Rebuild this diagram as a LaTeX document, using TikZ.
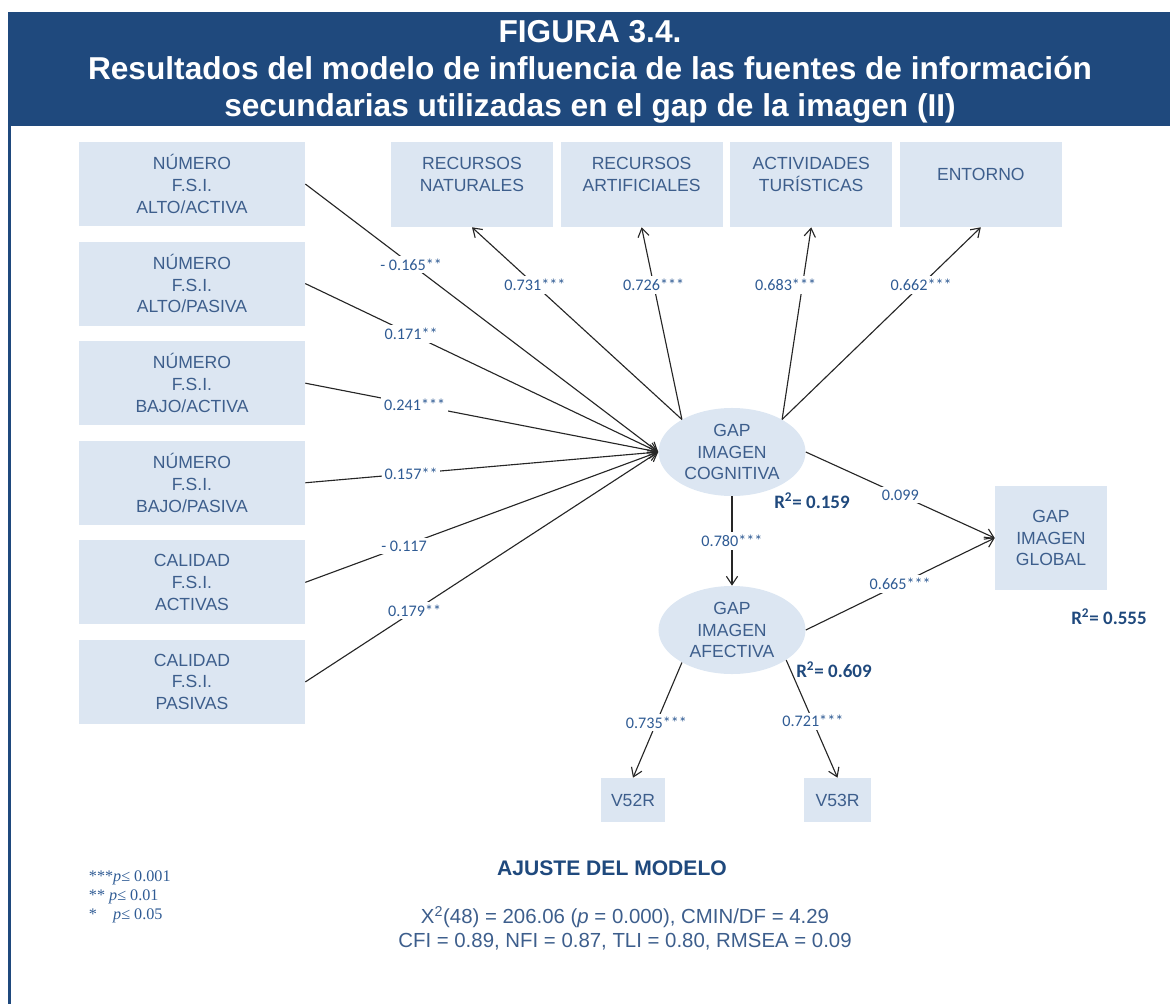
\documentclass[tikz,border=0pt]{standalone}
\usepackage{fontspec}
\setmainfont{Liberation Sans}
\newfontfamily\labfont{Carlito}
\newfontfamily\legfont{Liberation Serif}
\usetikzlibrary{positioning,shapes.geometric,arrows.meta}
\definecolor{headblue}{HTML}{1F497D}
\definecolor{boxblue}{HTML}{DCE6F2}
\definecolor{txtblue}{HTML}{3D5E8C}
\definecolor{labblue}{HTML}{2F5B94}

\begin{document}
\begin{tikzpicture}[x=0.025cm,y=-0.025cm,
  box/.style={fill=boxblue,text=txtblue,align=center,font=\fontsize{12.5}{15.5}\selectfont,inner sep=0pt},
  fsi/.style={box,minimum width=5.65cm,minimum height=2.1cm},
  ind/.style={box,minimum width=4.05cm,minimum height=2.125cm,text depth=14pt},
  lat/.style={box,ellipse,minimum width=3.675cm,minimum height=2.2cm},
  coef/.style={fill=white,text=labblue,font=\labfont\fontsize{11.5}{13}\selectfont,inner sep=2pt},
  rsq/.style={text=headblue,font=\labfont\bfseries\fontsize{13.5}{15}\selectfont},
  path/.style={-{Straight Barb[length=6pt,width=8pt]},line width=0.8pt,black!85}]
  \useasboundingbox (0,0) rectangle (1170,1004);

  %header
  \fill[headblue] (8,12) rectangle (1170,126);
  \fill[headblue] (8,126) rectangle (11,1004);
  \node[text=white,align=center,font=\bfseries\fontsize{22.5}{26.2}\selectfont] (tit) at (590,72) {FIGURA 3.4.\\Resultados del modelo de influencia de las fuentes de información\\secundarias utilizadas en el gap de la imagen (II)};

  %left boxes
  \node[fsi] (aa) at (192,184) {NÚMERO\\F.S.I.\\ALTO/ACTIVA};
  \node[fsi,below=0.375cm of aa] (ap) {NÚMERO\\F.S.I.\\ALTO/PASIVA};
  \node[fsi,below=0.375cm of ap] (ba) {NÚMERO\\F.S.I.\\BAJO/ACTIVA};
  \node[fsi,below=0.375cm of ba] (bp) {NÚMERO\\F.S.I.\\BAJO/PASIVA};
  \node[fsi,below=0.375cm of bp] (ca) {CALIDAD\\F.S.I.\\ACTIVAS};
  \node[fsi,below=0.375cm of ca] (cp) {CALIDAD\\F.S.I.\\PASIVAS};

  %top boxes
  \node[ind] (nat) at (472,184.5) {RECURSOS\\NATURALES};
  \node[ind,right=0.175cm of nat] (art) {RECURSOS\\ARTIFICIALES};
  \node[ind,right=0.175cm of art] (act) {ACTIVIDADES\\TURÍSTICAS};
  \node[ind,right=0.175cm of act] (ent) {ENTORNO};

  %latent
  \node[lat] (cog) at (732,452) {GAP\\IMAGEN\\COGNITIVA};
  \node[lat] (afe) at (732,630) {GAP\\IMAGEN\\AFECTIVA};
  \node[box,minimum width=2.8cm,minimum height=2.575cm] (glob) at (1051,538) {GAP\\IMAGEN\\GLOBAL};

  %items
  \node[box,minimum width=1.6cm,minimum height=1.1cm] (v52) at (633,800) {V52R};
  \node[box,minimum width=1.675cm,minimum height=1.1cm] (v53) at (837.5,800) {V53R};

  %sources to cognitive
  \draw[path] (aa.east) -- node[coef,pos=0.3]{- 0.165**} (cog.west);
  \draw[path] (ap.east) -- node[coef,pos=0.3]{0.171**} (cog.west);
  \draw[path] (ba.east) -- node[coef,pos=0.31]{0.241***} (cog.west);
  \draw[path] (bp.east) -- node[coef,pos=0.3]{0.157**} (cog.west);
  \draw[path] (ca.east) -- node[coef,pos=0.28]{- 0.117} (cog.west);
  \draw[path] (cp.east) -- node[coef,pos=0.31]{0.179**} (cog.west);

  %cognitive to dimensions
  \draw[path] (cog.147) -- node[coef,pos=0.7]{0.731***} (nat.south);
  \draw[path] (cog.147) -- node[coef,pos=0.7]{0.726***} (art.south);
  \draw[path] (cog.33) -- node[coef,pos=0.7,xshift=-12]{0.683***} (act.south);
  \draw[path] (cog.33) -- node[coef,pos=0.7]{0.662***} (ent.south);

  %structural
  \draw[path] (cog.south) -- node[coef]{0.780***} (afe.north);
  \draw[path] (cog.east) -- node[coef]{0.099} (glob.west);
  \draw[path] (afe.east) -- node[coef]{0.665***} (glob.west);
  \draw[path] (afe.213) -- node[coef,pos=0.52]{0.735***} (v52.north);
  \draw[path] (afe.331) -- node[coef,pos=0.52]{0.721***} (v53.north);

  %r squared
  \node[rsq] (r1) at (812,501) {R\textsuperscript{2}= 0.159};
  \node[rsq] (r2) at (834,670) {R\textsuperscript{2}= 0.609};
  \node[rsq] (r3) at (1109,617) {R\textsuperscript{2}= 0.555};

  %legend
  \node[anchor=west,align=left,text=labblue,font=\legfont\fontsize{11.5}{13.5}\selectfont] (leg) at (84,897) {***\textit{p}≤ 0.001\\** \textit{p}≤ 0.01\\*\quad\textit{p}≤ 0.05};

  %fit
  \node[text=headblue,font=\bfseries\fontsize{15}{17}\selectfont] (fit) at (612,868) {AJUSTE DEL MODELO};
  \node[text=txtblue,align=center,font=\fontsize{14.5}{17}\selectfont] (ind) at (625,928) {X\textsuperscript{2}(48) = 206.06 (\textit{p} = 0.000), CMIN/DF = 4.29\\CFI = 0.89, NFI = 0.87, TLI = 0.80, RMSEA = 0.09};
\end{tikzpicture}
\end{document}
